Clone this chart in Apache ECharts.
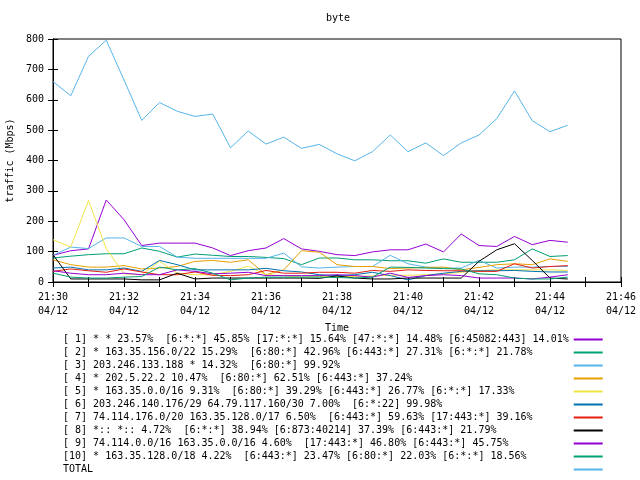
<!DOCTYPE html>
<html><head><meta charset="utf-8">
<script src="https://cdn.jsdelivr.net/npm/echarts@6/dist/echarts.min.js"></script>
<style>html,body{margin:0;padding:0;background:#fff}#c{width:640px;height:480px}</style>
</head><body><div id="c"></div>
<script>
var times = ["21:30:00","21:30:30","21:31:00","21:31:30","21:32:00","21:32:30","21:33:00","21:33:30","21:34:00","21:34:30",
"21:35:00","21:35:30","21:36:00","21:36:30","21:37:00","21:37:30","21:38:00","21:38:30","21:39:00","21:39:30",
"21:40:00","21:40:30","21:41:00","21:41:30","21:42:00","21:42:30","21:43:00","21:43:30","21:44:00","21:44:30"];
var xTickTimes = ["21:30","21:32","21:34","21:36","21:38","21:40","21:42","21:44","21:46"];
var xTickDate = "04/12";
var yTicks = [0,100,200,300,400,500,600,700,800];

var names = [
"[ 1] * * 23.57%  [6:*:*] 45.85% [17:*:*] 15.64% [47:*:*] 14.48% [6:45082:443] 14.01%",
"[ 2] * 163.35.156.0/22 15.29%  [6:80:*] 42.96% [6:443:*] 27.31% [6:*:*] 21.78%",
"[ 3] 203.246.133.188 * 14.32%  [6:80:*] 99.92%",
"[ 4] * 202.5.22.2 10.47%  [6:80:*] 62.51% [6:443:*] 37.24%",
"[ 5] * 163.35.0.0/16 9.31%  [6:80:*] 39.29% [6:443:*] 26.77% [6:*:*] 17.33%",
"[ 6] 203.246.140.176/29 64.79.117.160/30 7.00%  [6:*:22] 99.98%",
"[ 7] 74.114.176.0/20 163.35.128.0/17 6.50%  [6:443:*] 59.63% [17:443:*] 39.16%",
"[ 8] *:: *:: 4.72%  [6:*:*] 38.94% [6:873:40214] 37.39% [6:443:*] 21.79%",
"[ 9] 74.114.0.0/16 163.35.0.0/16 4.60%  [17:443:*] 46.80% [6:443:*] 45.75%",
"[10] * 163.35.128.0/18 4.22%  [6:443:*] 23.47% [6:80:*] 22.03% [6:*:*] 18.56%",
"TOTAL"];

var s1 = [88,103,109,270,205,120,128,128,128,112,87,103,112,143,109,101,90,87,99,106,106,125,99,158,120,117,150,123,137,131];
var s2 = [79,85,90,93,93,112,101,82,92,88,84,84,81,77,57,79,79,73,73,70,70,62,76,65,65,65,73,109,84,87];
var s3 = [88,115,110,145,145,117,117,82,78,78,78,78,78,95,50,46,49,51,51,88,60,49,46,46,71,46,49,49,51,51];
var s4 = [73,57,49,49,54,43,46,51,68,71,65,73,24,40,103,98,57,51,51,44,46,48,49,40,48,57,60,57,76,68];
var s5 = [139,115,268,110,27,24,68,29,24,24,35,52,24,21,16,18,18,18,20,22,22,24,27,32,38,40,40,40,40,38];
var s6 = [46,49,40,40,46,35,71,57,40,40,40,40,45,37,33,24,21,24,32,21,7,21,29,35,37,37,38,35,33,33];
var s7 = [35,43,37,32,43,33,24,24,33,22,21,24,38,29,29,32,32,29,38,35,40,38,37,37,35,35,60,46,51,54];
var s8 = [90,10,10,10,10,7,7,29,10,13,13,13,13,13,13,12,20,13,10,10,13,13,13,13,68,106,126,71,13,10];
var s9 = [37,29,24,24,29,24,24,40,35,27,29,32,21,21,21,21,24,21,16,29,15,21,24,21,13,13,13,10,16,24];
var s10 = [29,16,13,13,16,18,49,40,44,29,7,13,16,16,16,16,15,13,16,49,48,46,44,43,27,24,13,10,10,16];
var total = [660,613,743,796,665,532,591,562,545,553,442,497,454,477,440,453,422,399,429,484,429,458,416,458,484,538,629,531,495,516];

var colors = ["#9400d3","#009e73","#56b4e9","#e69f00","#f0e442","#0072b2","#e51e10","#000000","#9400d3","#009e73","#56b4e9"];
var values = [s1,s2,s3,s4,s5,s6,s7,s8,s9,s10,total];

function toMin(t){var p=t.split(':').map(Number);return p[0]*60+p[1]+p[2]/60-(21*60+30);}
var FONT = "DejaVu Sans Mono";
var txt = {fontFamily:FONT,fontSize:10,color:"#000"};

var series = values.map(function(v,k){
  return {name:names[k],type:'line',symbol:'none',xAxisIndex:0,yAxisIndex:0,
    lineStyle:{width:1,color:colors[k]},itemStyle:{color:colors[k]},
    animation:false,
    data:v.map(function(y,i){return [toMin(times[i]),y];})};
});

var chart = echarts.init(document.getElementById('c'),null,{renderer:'canvas'});
var axLine = {show:true,lineStyle:{color:'#000',width:1}};
chart.setOption({
  animation:false,
  title:{text:'byte',left:338,top:13,textAlign:'center',padding:0,textStyle:{fontFamily:FONT,fontSize:10,fontWeight:'normal',color:'#000'}},
  grid:{left:53,right:19,top:39,height:243,show:true,borderColor:'#000',borderWidth:1,outerBoundsMode:'none',containLabel:false},
  legend:{orient:'vertical',left:63,top:333,height:150,padding:0,align:'right',itemGap:0,itemWidth:29,itemHeight:2,icon:'rect',
    data:names,textStyle:Object.assign({lineHeight:13},txt),
    formatter:function(n){var s=n;while(s.length<84)s+=' ';return s;}},
  xAxis:[{type:'value',min:0,max:16,interval:1,position:'bottom',
    axisLine:axLine,axisTick:{show:true,inside:true,length:5,lineStyle:{color:'#000'}},
    splitLine:{show:false},
    axisLabel:Object.assign({margin:8,lineHeight:14,formatter:function(v){return v%2===0?xTickTimes[v/2]+'\n'+xTickDate:'';}},txt),
    name:'Time',nameLocation:'middle',nameGap:41,nameTextStyle:txt},
   {type:'value',min:0,max:16,interval:1,position:'top',
    axisLine:axLine,axisTick:{show:true,inside:true,length:5,lineStyle:{color:'#000'}},
    splitLine:{show:false},axisLabel:{show:false}}],
  yAxis:[{type:'value',min:yTicks[0],max:yTicks[yTicks.length-1],interval:100,position:'left',
    axisLine:axLine,axisTick:{show:true,inside:true,length:5,lineStyle:{color:'#000'}},
    splitLine:{show:false},axisLabel:Object.assign({margin:9},txt),
    name:'traffic (Mbps)',nameLocation:'middle',nameRotate:90,nameGap:35,nameTextStyle:txt},
   {type:'value',min:yTicks[0],max:yTicks[yTicks.length-1],interval:100,position:'right',
    axisLine:axLine,axisTick:{show:true,inside:true,length:5,lineStyle:{color:'#000'}},
    splitLine:{show:false},axisLabel:{show:false}}],
  series:series
});
</script></body></html>
